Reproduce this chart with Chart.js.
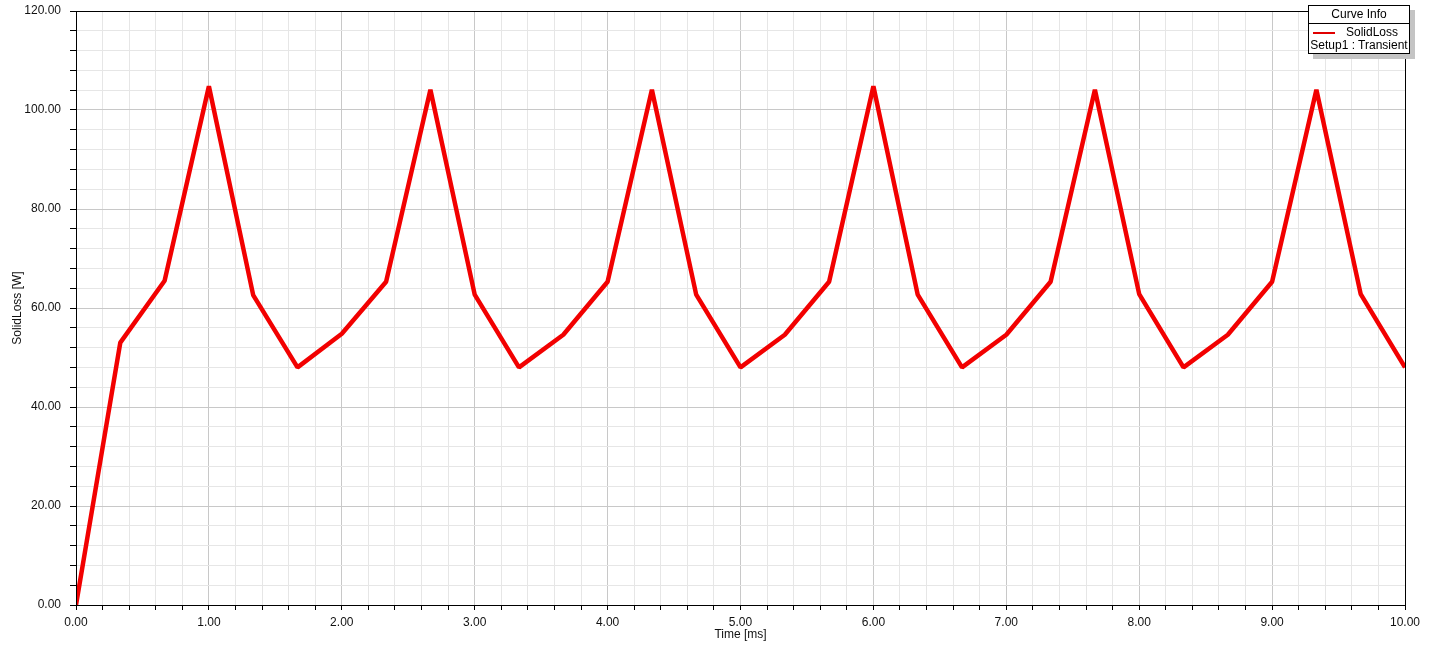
<!DOCTYPE html>
<html lang="en">
<head>
    <meta charset="UTF-8">
    <title>SolidLoss</title>
    <script src="https://cdn.jsdelivr.net/npm/chart.js"></script>
    <style>
        body {
            margin: 0;
            background: #fff;
            font-family: 'Liberation Sans', Arial, sans-serif;
        }

        .wrap {
            position: relative;
            width: 1433px;
            height: 645px;
        }

        .curve-info {
            position: absolute;
            left: 1308px;
            top: 5px;
            width: 100px;
            height: 47px;
            background: #fff;
            border: 1px solid #000;
            box-shadow: 5px 5px 0 #c4c4c4;
            font-size: 12px;
            color: #000;
        }

        .curve-info .title {
            text-align: center;
            height: 17px;
            line-height: 17px;
            border-bottom: 1px solid #000;
        }

        .curve-info .row {
            position: relative;
            height: 13px;
            line-height: 13px;
            margin-top: 2px;
            padding-left: 37px;
        }

        .curve-info .swatch {
            position: absolute;
            left: 4px;
            top: 6px;
            width: 22px;
            height: 2px;
            background: #e00000;
        }

        .curve-info .setup {
            text-align: center;
            line-height: 13px;
            white-space: nowrap;
        }
    </style>
</head>
<body>
    <div class="wrap">
        <canvas id="lossChart" width="1433" height="645"></canvas>
        <div class="curve-info">
            <div class="title">Curve Info</div>
            <div class="row"><span class="swatch"></span>SolidLoss</div>
            <div class="setup">Setup1 : Transient</div>
        </div>
    </div>

    <script>
        // sample times [ms] and solid loss [W]
        const times = [0, 0.3333, 0.6667, 1, 1.3333, 1.6667, 2, 2.3333, 2.6667, 3, 3.3333, 3.6667,
            4, 4.3333, 4.6667, 5, 5.3333, 5.6667, 6, 6.3333, 6.6667, 7, 7.3333, 7.6667,
            8, 8.3333, 8.6667, 9, 9.3333, 9.6667, 10];
        const solidLoss = [0, 53.0, 65.5, 104.8, 62.6, 48.0, 54.8, 65.3, 104.1, 62.7, 48.0, 54.6,
            65.3, 104.1, 62.7, 48.0, 54.6, 65.3, 104.8, 62.7, 48.0, 54.6, 65.3, 104.1,
            62.8, 48.0, 54.6, 65.3, 104.1, 62.8, 48.0];

        const xMin = 0, xMax = 10, xMinorStep = 0.2, xMajorStep = 1;
        const yMin = 0, yMax = 120, yMinorStep = 4, yMajorStep = 20;

        function isMajor(v, step) {
            const r = v / step;
            return Math.abs(r - Math.round(r)) < 1e-6;
        }

        const frame = {
            id: 'frame',
            afterDraw(chart) {
                const a = chart.chartArea;
                const ctx = chart.ctx;
                ctx.save();
                ctx.strokeStyle = '#000';
                ctx.lineWidth = 1;
                ctx.strokeRect(a.left + 0.5, a.top + 0.5, a.right - a.left, a.bottom - a.top);
                ctx.restore();
            }
        };

        const font = { family: "'Liberation Sans', Arial, sans-serif", size: 12 };

        new Chart(document.getElementById('lossChart'), {
            type: 'line',
            data: {
                datasets: [{
                    label: 'SolidLoss',
                    data: times.map((t, i) => ({ x: t, y: solidLoss[i] })),
                    borderColor: '#f20000',
                    borderWidth: 4.5,
                    borderJoinStyle: 'bevel',
                    pointRadius: 0,
                    tension: 0,
                    fill: false
                }]
            },
            options: {
                responsive: false,
                animation: false,
                devicePixelRatio: 1,
                layout: { padding: { top: 11, right: 28, left: 0, bottom: 0 } },
                plugins: {
                    legend: { display: false },
                    tooltip: { enabled: false }
                },
                scales: {
                    x: {
                        type: 'linear',
                        min: xMin,
                        max: xMax,
                        afterFit(scale) {
                            scale.height = 40;
                            scale.paddingLeft = 0;
                            scale.paddingRight = 0;
                        },
                        border: { color: '#000', width: 1 },
                        grid: {
                            color: ctx => isMajor(ctx.tick.value, xMajorStep) ? '#c8c8c8' : '#e6e6e6',
                            tickColor: '#000',
                            tickLength: 5
                        },
                        ticks: {
                            stepSize: xMinorStep,
                            maxTicksLimit: 200,
                            autoSkip: false,
                            maxRotation: 0,
                            padding: 5,
                            color: '#111',
                            font: font,
                            callback: v => isMajor(v, xMajorStep) ? v.toFixed(2) : ''
                        },
                        title: {
                            display: true,
                            text: 'Time [ms]',
                            color: '#111',
                            font: font,
                            padding: { top: 0, bottom: 3 }
                        }
                    },
                    y: {
                        min: yMin,
                        max: yMax,
                        afterFit(scale) {
                            scale.width = 76;
                            scale.paddingTop = 0;
                            scale.paddingBottom = 0;
                        },
                        border: { color: '#000', width: 1 },
                        grid: {
                            color: ctx => isMajor(ctx.tick.value, yMajorStep) ? '#c8c8c8' : '#e6e6e6',
                            tickColor: '#000',
                            tickLength: 6
                        },
                        ticks: {
                            stepSize: yMinorStep,
                            maxTicksLimit: 200,
                            autoSkip: false,
                            padding: 9,
                            color: '#111',
                            font: font,
                            callback: v => isMajor(v, yMajorStep) ? v.toFixed(2) : ''
                        },
                        title: {
                            display: true,
                            text: 'SolidLoss [W]',
                            color: '#111',
                            font: font,
                            padding: { top: 10, bottom: 0 }
                        }
                    }
                }
            },
            plugins: [frame]
        });
    </script>
</body>
</html>
